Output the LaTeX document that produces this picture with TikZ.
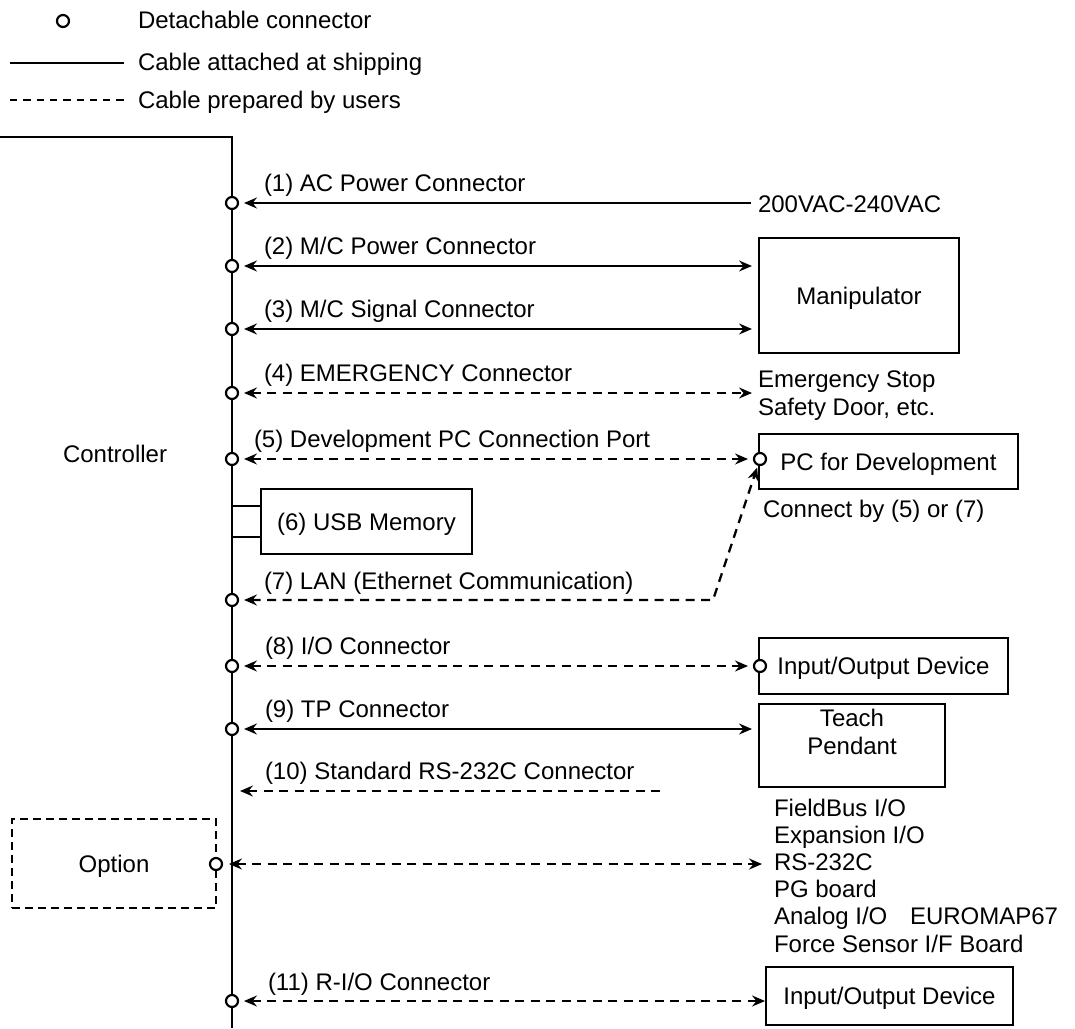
\documentclass[tikz,border=0pt]{standalone}
\usepackage{fontspec}
\setmainfont{Liberation Sans}
\usetikzlibrary{arrows.meta}
\begin{document}
\begin{tikzpicture}[x=1pt,y=-1pt,
  >={Stealth[length=13pt,width=11pt,inset=4.5pt]},
  every node/.style={font=\fontsize{24}{28}\selectfont, inner sep=0pt, outer sep=0pt},
  conn/.style={circle, draw, fill=white, line width=2.2pt, minimum size=12pt, inner sep=0pt},
  box/.style={draw, line width=2.2pt, inner sep=0pt, text height=17pt, text depth=0pt, align=center},
  obox/.style={box, dash pattern=on 8pt off 5pt},
  lbl/.style={anchor=base west},
  cab/.style={line width=2.3pt},
  usr/.style={line width=2.3pt, dash pattern=on 9pt off 6.5pt},
  lusr/.style={line width=2.2pt, dash pattern=on 7.3pt off 6pt},
  gapL/.style={shorten <=6pt},
  gapR/.style={shorten >=6pt}
]
\useasboundingbox (0,0) rectangle (1075,1028);

% legend
\node[conn] (lc) at (63,21) {};
\node[lbl] (l1) at (138,28) {Detachable connector};
\coordinate (ls1) at (10,63);
\coordinate (ls2) at (124,63);
\draw[cab] (ls1) -- (ls2);
\node[lbl] (l2) at (138,70) {Cable attached at shipping};
\coordinate (ld1) at (10,100);
\coordinate (ld2) at (124,100);
\draw[lusr] (ld1) -- (ld2);
\node[lbl] (l3) at (138,108) {Cable prepared by users};

% controller spine
\coordinate (tl) at (0,137);
\coordinate (tc) at (232,137);
\coordinate (bc) at (232,1028);
\draw[cab] (tl) -- (tc) -- (bc);
\node[lbl] (ctrl) at (63,462) {Controller};

% boxes on the right
\node[box, minimum width=200pt, minimum height=115pt] (manip) at (859,295.5) {Manipulator};
\node[box, minimum width=259pt, minimum height=55pt] (pc) at (888.5,461.5) {PC for Development};
\node[box, minimum width=211pt, minimum height=65pt] (usb) at (366.5,521.5) {(6) USB Memory};
\node[box, minimum width=249pt, minimum height=56pt] (io1) at (883.5,666) {Input/Output Device};
\node[box, minimum width=186pt, minimum height=83pt] (tp) at (852,745.5) {Teach\\Pendant};
\node[box, minimum width=247pt, minimum height=58pt] (io2) at (889.5,996) {Input/Output Device};
\node[obox, minimum width=204pt, minimum height=89pt] (opt) at (114,863.5) {Option};

% connectors (circles)
\node[conn] (c1) at (232,203) {};
\node[conn] (c2) at (232,266) {};
\node[conn] (c3) at (232,329) {};
\node[conn] (c4) at (232,393) {};
\node[conn] (c5) at (232,459) {};
\node[conn] (c7) at (232,600) {};
\node[conn] (c8) at (232,666) {};
\node[conn] (c9) at (232,729) {};
\node[conn] (c11) at (232,1001) {};
\node[conn] (co) at (216,864) {};
\node[conn] (pcc) at (760,459) {};
\node[conn] (ioc) at (760,666) {};

% labels
\node[lbl] (t1) at (264,191) {(1) AC Power Connector};
\node[lbl] (t2) at (264,254) {(2) M/C Power Connector};
\node[lbl] (t3) at (264,317) {(3) M/C Signal Connector};
\node[lbl] (t4) at (264,381) {(4) EMERGENCY Connector};
\node[lbl] (t5) at (254,447) {(5) Development PC Connection Port};
\node[lbl] (t7) at (264,589) {(7) LAN (Ethernet Communication)};
\node[lbl] (t8) at (265,654) {(8) I/O Connector};
\node[lbl] (t9) at (265,717) {(9) TP Connector};
\node[lbl] (t10) at (265,779) {(10) Standard RS-232C Connector};
\node[lbl] (t11) at (268,990) {(11) R-I/O Connector};

\node[lbl] (ac) at (758,212) {200VAC-240VAC};
\node[lbl] (em1) at (758,387) {Emergency Stop};
\node[lbl] (em2) at (758,415) {Safety Door, etc.};
\node[lbl] (cb) at (763,517) {Connect by (5) or (7)};
\node[lbl] (f1) at (774,816) {FieldBus I/O};
\node[lbl] (f2) at (774,843) {Expansion I/O};
\node[lbl] (f3) at (774,870) {RS-232C};
\node[lbl] (f4) at (774,897) {PG board};
\node[lbl] (f5) at (774,924) {Analog I/O};
\node[lbl] (f5b) at (910,924) {EUROMAP67};
\node[lbl] (f6) at (774,952) {Force Sensor I/F Board};

% cables
\draw[cab,<-,gapL,shorten >=7pt] (c1) -- (c1 -| ac.west);
\draw[cab,<->,gapL,shorten >=7pt] (c2) -- (c2 -| manip.west);
\draw[cab,<->,gapL,shorten >=7pt] (c3) -- (c3 -| manip.west);
\draw[usr,<->,gapL,shorten >=6pt] (c4) -- (c4 -| em1.west);
\draw[usr,<->,gapL,gapR] (c5) -- (pcc);
\coordinate (k7) at (713,600);
\draw[usr,<->,gapL,shorten >=3pt] (c7) -- (k7) -- (pcc);
\draw[usr,<->,gapL,gapR] (c8) -- (ioc);
\draw[cab,<->,gapL,shorten >=7pt] (c9) -- (c9 -| tp.west);
\coordinate (a10) at (240,791);
\coordinate (e10) at (660,791);
\draw[usr,->] (e10) -- (a10);
\draw[usr,<->,shorten <=7pt,shorten >=12pt] (co) -- (co -| f3.west);
\draw[usr,<->,gapL,shorten >=1pt] (c11) -- (c11 -| io2.west);

% USB stubs
\coordinate (u1) at ([yshift=15.5pt]usb.west);
\coordinate (u2) at ([yshift=-15.5pt]usb.west);
\draw[cab] (u1 -| tc) -- (u1);
\draw[cab] (u2 -| tc) -- (u2);
\end{tikzpicture}
\end{document}
